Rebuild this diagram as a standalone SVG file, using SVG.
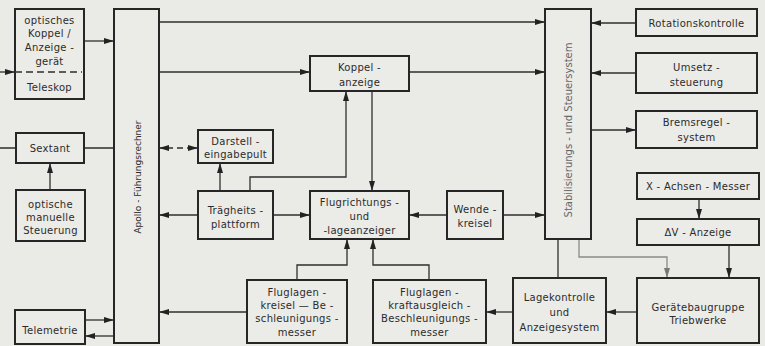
<svg xmlns="http://www.w3.org/2000/svg" width="765" height="346" viewBox="0 0 765 346">
<defs>
<style>
.b{fill:#ebebe7;stroke:#262626;stroke-width:2}
.t{font-family:"DejaVu Sans",sans-serif;font-size:10px;fill:#2b2b2b;text-anchor:middle;letter-spacing:0.3px}
.lt{fill:#666}
.c{fill:none;stroke:#2e2e2e;stroke-width:1.3}
.g{stroke:#8a8a8a}
</style>
<marker id="a" viewBox="0 0 10 6" refX="10" refY="3" markerWidth="10" markerHeight="6" markerUnits="userSpaceOnUse" orient="auto-start-reverse">
<path d="M0,0 L10,3 L0,6 Z" fill="#222"/>
</marker>
<marker id="ag" viewBox="0 0 10 6" refX="10" refY="3" markerWidth="10" markerHeight="6" markerUnits="userSpaceOnUse" orient="auto">
<path d="M0,0 L10,3 L0,6 Z" fill="#777"/>
</marker>
</defs>
<rect width="765" height="346" fill="#eaeae6"/>

<g id="connectors">
<path class="c" d="M0,72 H15" marker-end="url(#a)"/>
<path class="c" d="M84,41 H114" marker-end="url(#a)"/>
<path class="c" d="M159,22 H545" marker-end="url(#a)"/>
<path class="c" d="M159,72 H310" marker-end="url(#a)"/>
<path class="c" d="M409,72 H545" marker-end="url(#a)"/>
<path class="c" d="M636,23 H591" marker-end="url(#a)"/>
<path class="c" d="M636,73 H591" marker-end="url(#a)"/>
<path class="c" d="M591,130 H636" marker-end="url(#a)"/>
<path class="c" d="M699,199 V219" marker-end="url(#a)"/>
<path class="c" d="M729,245 V278" marker-end="url(#a)"/>
<path class="c g" d="M579,239 V257 H667 V278" marker-end="url(#ag)"/>
<path class="c" d="M558,239 V278"/>
<path class="c" d="M637,312 H606" marker-end="url(#a)"/>
<path class="c" d="M513,312 H486" marker-end="url(#a)"/>
<path class="c" d="M247,312 H159" marker-end="url(#a)"/>
<path class="c" d="M297,280 V265 H347 V239" marker-end="url(#a)"/>
<path class="c" d="M429,280 V265 H373 V239" marker-end="url(#a)"/>
<path class="c" d="M372,91 V191" marker-end="url(#a)"/>
<path class="c" d="M250,191 V177 H346 V91" marker-end="url(#a)"/>
<path class="c" d="M159,148 H198" stroke-dasharray="14,4,6,4" marker-start="url(#a)" marker-end="url(#a)"/>
<path class="c" d="M220,191 V163" marker-end="url(#a)"/>
<path class="c" d="M198,215 H159" marker-end="url(#a)"/>
<path class="c" d="M273,215 H310" marker-end="url(#a)"/>
<path class="c" d="M447,215 H409" marker-end="url(#a)"/>
<path class="c" d="M503,215 H545" marker-end="url(#a)"/>
<path class="c" d="M0,148 H16 M84,148 H114"/>
<path class="c" d="M50,190 V163" marker-end="url(#a)"/>
<path class="c" d="M85,320 H114" marker-end="url(#a)"/>
<path class="c" d="M114,336 H85" marker-end="url(#a)"/>
</g>

<g id="koppelgeraet">
<rect class="b" x="15" y="9" width="69" height="90"/>
<path d="M15,72 H82" stroke="#2e2e2e" stroke-width="1.3" stroke-dasharray="7,4"/>
<text class="t" x="49.5" y="24">optisches</text>
<text class="t" x="49.5" y="37">Koppel /</text>
<text class="t" x="49.5" y="51">Anzeige -</text>
<text class="t" x="49.5" y="65">gerät</text>
<text class="t" x="49.5" y="91">Teleskop</text>
</g>

<g id="sextant">
<rect class="b" x="16" y="133" width="68" height="30"/>
<text class="t" x="50" y="152">Sextant</text>
</g>

<g id="optsteuerung">
<rect class="b" x="16" y="190" width="69" height="51"/>
<text class="t" x="50.5" y="207.5">optische</text>
<text class="t" x="50.5" y="220.5">manuelle</text>
<text class="t" x="50.5" y="233.5">Steuerung</text>
</g>

<g id="telemetrie">
<rect class="b" x="15" y="310" width="70" height="34"/>
<text class="t" x="50" y="333.5">Telemetrie</text>
</g>

<g id="apollo">
<rect class="b" x="114" y="9" width="45" height="334"/>
<text class="t" transform="translate(140.5,177) rotate(-90)" style="font-size:9px;letter-spacing:0">Apollo - Führungsrechner</text>
</g>

<g id="koppelanzeige">
<rect class="b" x="310" y="56" width="99" height="35"/>
<text class="t" x="359.5" y="70.5">Koppel -</text>
<text class="t" x="359.5" y="85.5">anzeige</text>
</g>

<g id="darstell">
<rect class="b" x="198" y="130" width="75" height="33"/>
<text class="t" x="235.5" y="144.5">Darstell -</text>
<text class="t" x="235.5" y="158">eingabepult</text>
</g>

<g id="traegheit">
<rect class="b" x="198" y="191" width="75" height="48"/>
<text class="t" x="235.5" y="213.5">Trägheits -</text>
<text class="t" x="235.5" y="227.5">plattform</text>
</g>

<g id="flugrichtung">
<rect class="b" x="310" y="191" width="99" height="48"/>
<text class="t" x="359.5" y="205.5">Flugrichtungs -</text>
<text class="t" x="359.5" y="219.5">und</text>
<text class="t" x="359.5" y="233.5">-lageanzeiger</text>
</g>

<g id="wendekreisel">
<rect class="b" x="447" y="191" width="56" height="48"/>
<text class="t" x="475" y="212.5">Wende -</text>
<text class="t" x="475" y="226.5">kreisel</text>
</g>

<g id="kreiselbeschl">
<rect class="b" x="247" y="280" width="100" height="63"/>
<text class="t" x="297" y="295.5">Fluglagen -</text>
<text class="t" x="297" y="308.5">kreisel — Be -</text>
<text class="t" x="297" y="321.5">schleunigungs -</text>
<text class="t" x="297" y="336">messer</text>
</g>

<g id="kraftbeschl">
<rect class="b" x="373" y="280" width="113" height="63"/>
<text class="t" x="429.5" y="295.5">Fluglagen -</text>
<text class="t" x="429.5" y="308.5">kraftausgleich -</text>
<text class="t" x="429.5" y="321.5">Beschleunigungs -</text>
<text class="t" x="429.5" y="336">messer</text>
</g>

<g id="lagekontrolle">
<rect class="b" x="513" y="278" width="93" height="65"/>
<text class="t" x="559.5" y="300.5">Lagekontrolle</text>
<text class="t" x="559.5" y="315.5">und</text>
<text class="t" x="559.5" y="330.5">Anzeigesystem</text>
</g>

<g id="stabsystem">
<rect class="b" x="545" y="9" width="46" height="230"/>
<text class="t lt" transform="translate(571.5,130) rotate(-90)" style="letter-spacing:0">Stabilisierungs - und Steuersystem</text>
</g>

<g id="rotation">
<rect class="b" x="636" y="9" width="121" height="27"/>
<text class="t" x="696.5" y="26.5">Rotationskontrolle</text>
</g>

<g id="umsetz">
<rect class="b" x="636" y="53" width="121" height="40"/>
<text class="t" x="696.5" y="70.5">Umsetz -</text>
<text class="t" x="696.5" y="85.5">steuerung</text>
</g>

<g id="bremsregel">
<rect class="b" x="636" y="111" width="121" height="37"/>
<text class="t" x="696.5" y="125.5">Bremsregel -</text>
<text class="t" x="696.5" y="140.5">system</text>
</g>

<g id="xachse">
<rect class="b" x="637" y="173" width="122" height="26"/>
<text class="t" x="698" y="189.5">X - Achsen - Messer</text>
</g>

<g id="dv">
<rect class="b" x="637" y="219" width="122" height="26"/>
<text class="t" x="698" y="235.5">ΔV - Anzeige</text>
</g>

<g id="triebwerke">
<rect class="b" x="637" y="278" width="122" height="65"/>
<text class="t" x="698" y="310.5">Gerätebaugruppe</text>
<text class="t" x="698" y="324">Triebwerke</text>
</g>
</svg>
